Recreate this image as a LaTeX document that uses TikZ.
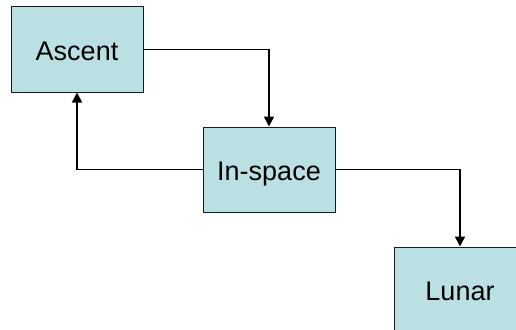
\documentclass[tikz,border=0pt]{standalone}
\usepackage{fontspec}
\setmainfont{Liberation Sans}
\usetikzlibrary{arrows.meta}
\definecolor{boxfill}{HTML}{BBE0E3}
\definecolor{boxline}{HTML}{1A1A1A}
\tikzset{
  stage/.style={draw=boxline, line width=1pt, fill=boxfill, minimum width=132pt,
    minimum height=85pt, inner sep=0pt, text height=22pt, text depth=0pt,
    font=\fontsize{27}{30}\selectfont},
  flow/.style={line width=1.6pt, -{Triangle[length=10pt,width=10pt]}}
}
\begin{document}
\begin{tikzpicture}[x=1pt,y=-1pt]
\useasboundingbox (0,0) rectangle (516,329);
\clip (0,0) rectangle (516,329);
\node[stage] (ascent) at (77,49.5) {Ascent};
\node[stage] (inspace) at (269,169.5) {In-space};
\node[stage] (lunar) at (460,289.5) {Lunar};
\draw[flow] (ascent.east) -| (inspace.north);
\draw[flow] (inspace.west) -| (ascent.south);
\draw[flow] (inspace.east) -| (lunar.north);
\end{tikzpicture}
\end{document}
